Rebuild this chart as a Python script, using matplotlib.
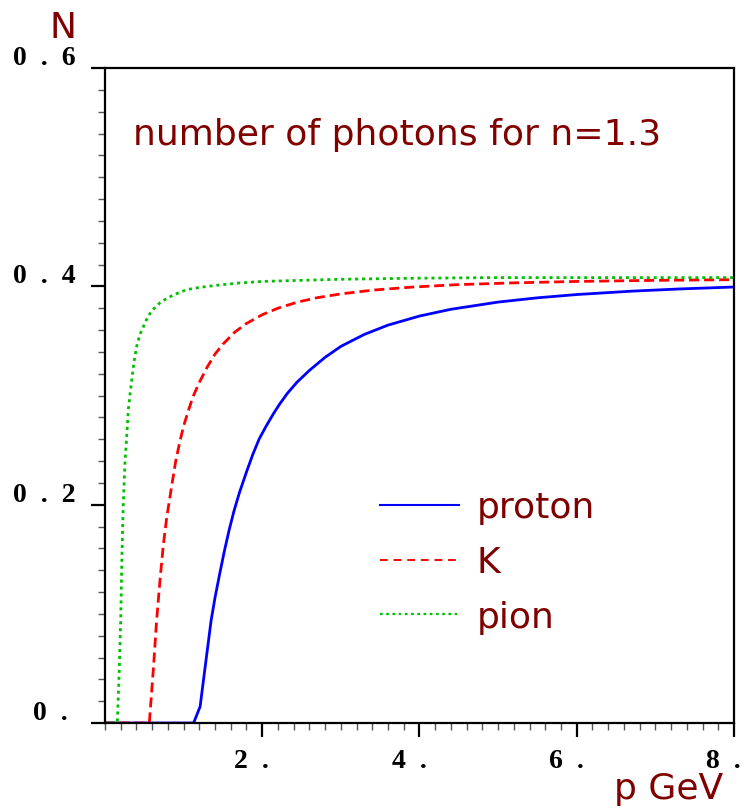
import numpy as np
import matplotlib
matplotlib.use("Agg")
import matplotlib.pyplot as plt
from matplotlib.transforms import offset_copy, blended_transform_factory

p_proton = [0, 1.127, 1.21, 1.27, 1.35, 1.40, 1.46, 1.52, 1.58, 1.64, 1.71, 1.80, 1.88, 1.96,
            2.05, 2.14, 2.22, 2.32, 2.44, 2.6, 2.8, 3.0, 3.3, 3.6, 4.0, 4.4, 5.0, 5.5, 6.0,
            6.7, 7.3, 8.0]
n_proton = [0, 0, 0.015, 0.049, 0.094, 0.115, 0.137, 0.158, 0.177, 0.194, 0.211, 0.230, 0.246,
            0.260, 0.272, 0.283, 0.292, 0.302, 0.312, 0.323, 0.335, 0.345, 0.356, 0.3645,
            0.3728, 0.379, 0.3856, 0.3895, 0.3925, 0.3956, 0.3976, 0.3994]

p_kaon = [0, 0.564, 0.615, 0.657, 0.70, 0.742, 0.785, 0.848, 0.90, 0.95, 1.0, 1.06, 1.12, 1.2,
          1.3, 1.4, 1.5, 1.65, 1.8, 2.0, 2.2, 2.45, 2.7, 3.0, 3.4, 3.9, 4.5, 5.2, 6.0, 7.0, 8.0]
n_kaon = [0, 0, 0.049, 0.094, 0.131, 0.163, 0.188, 0.217, 0.240, 0.257, 0.272, 0.286, 0.299,
          0.312, 0.326, 0.338, 0.347, 0.358, 0.366, 0.374, 0.380, 0.3856, 0.3896, 0.3931,
          0.3965, 0.3993, 0.4016, 0.4032, 0.4045, 0.4055, 0.4061]

p_pion = [0, 0.157, 0.182, 0.20, 0.212, 0.222, 0.233, 0.254, 0.276, 0.297, 0.32, 0.34, 0.37,
          0.403, 0.44, 0.488, 0.55, 0.615, 0.70, 0.785, 0.9, 1.04, 1.2, 1.42, 1.7, 2.0, 2.5,
          3.0, 4.0, 5.0, 6.5, 8.0]
n_pion = [0, 0, 0.049, 0.094, 0.140, 0.172, 0.201, 0.238, 0.262, 0.287, 0.302, 0.314, 0.331,
          0.345, 0.355, 0.363, 0.373, 0.379, 0.385, 0.389, 0.393, 0.397, 0.399, 0.401, 0.403,
          0.4045, 0.4055, 0.4065, 0.4075, 0.408, 0.408, 0.408]

names = ["proton", "K", "pion"]
xticks = [2, 4, 6, 8]
xlabels = ["2  .", "4  .", "6  .", "8  ."]
yticks = [0, 0.2, 0.4, 0.6]
ylabels = ["0  .", "0  .  2", "0  .  4", "0  .  6"]

darkred = "#800000"
blue, red, green = "#0000ff", "#ff0000", "#00c000"

fig = plt.figure(figsize=(7.45, 8.08), dpi=100)
ax = fig.add_axes([0.1409, 0.1052, 0.8443, 0.8106])

ax.plot(p_proton, n_proton, color=blue, lw=2.0)
ax.plot(p_kaon, n_kaon, color=red, lw=2.0, dashes=(3.6, 1.8))
ax.plot(p_pion, n_pion, color=green, lw=2.0, dashes=(1.1, 1.4))

ax.set_xlim(0, 8)
ax.set_ylim(0, 0.6)

for s in ax.spines.values():
    s.set_linewidth(1.6)
    s.set_color("black")

ax.set_xticks(xticks)
ax.set_xticks(np.arange(0, 8.01, 0.2), minor=True)
ax.set_yticks(yticks)
ax.set_yticks(np.arange(0, 0.601, 0.02), minor=True)
ax.tick_params(which="major", direction="out", length=10, width=1.6, color="black",
               labelbottom=False, labelleft=False)
ax.tick_params(which="minor", direction="out", length=5, width=1, color="#555555")

# tick labels in bold serif, sitting just above / below their ticks
lab_font = dict(family="Liberation Serif", weight="bold", size=20, color="black")
ytr = blended_transform_factory(ax.transAxes, ax.transData)
for y, t in zip(yticks, ylabels):
    dx = -37 if y == 0 else -29
    tr = offset_copy(ytr, fig=fig, x=dx, y=3, units="dots")
    ax.text(0, y, t, transform=tr, ha="right", va="baseline", **lab_font)
xtr = blended_transform_factory(ax.transData, ax.transAxes)
for x, t in zip(xticks, xlabels):
    tr = offset_copy(xtr, fig=fig, x=7, y=-45, units="dots")
    ax.text(x, 0, t, transform=tr, ha="right", va="baseline", **lab_font)

fig.text(63 / 745, 1 - 38 / 808, "N", ha="center", va="baseline", fontsize=26, color=darkred)
fig.text(723 / 745, 1 - 799 / 808, "p GeV", ha="right", va="baseline", fontsize=26, color=darkred)
fig.text(133 / 745, 1 - 145 / 808, "number of photons for n=1.3", ha="left", va="baseline",
         fontsize=26, color=darkred)

# hand-drawn key
styles = [dict(color=blue, lw=1.5),
          dict(color=red, lw=1.4, dashes=(4, 3)),
          dict(color=green, lw=1.6, dashes=(1.2, 1.6))]
key_y = [0.333, 0.249, 0.166]
for name, st, ky in zip(names, styles, key_y):
    ax.plot([0.437, 0.563], [ky, ky], transform=ax.transAxes, clip_on=False, **st)
    ax.text(0.591, ky - 0.005, name, transform=ax.transAxes, ha="left", va="center",
            fontsize=26, color=darkred)

fig.savefig("out.png", dpi=100)
